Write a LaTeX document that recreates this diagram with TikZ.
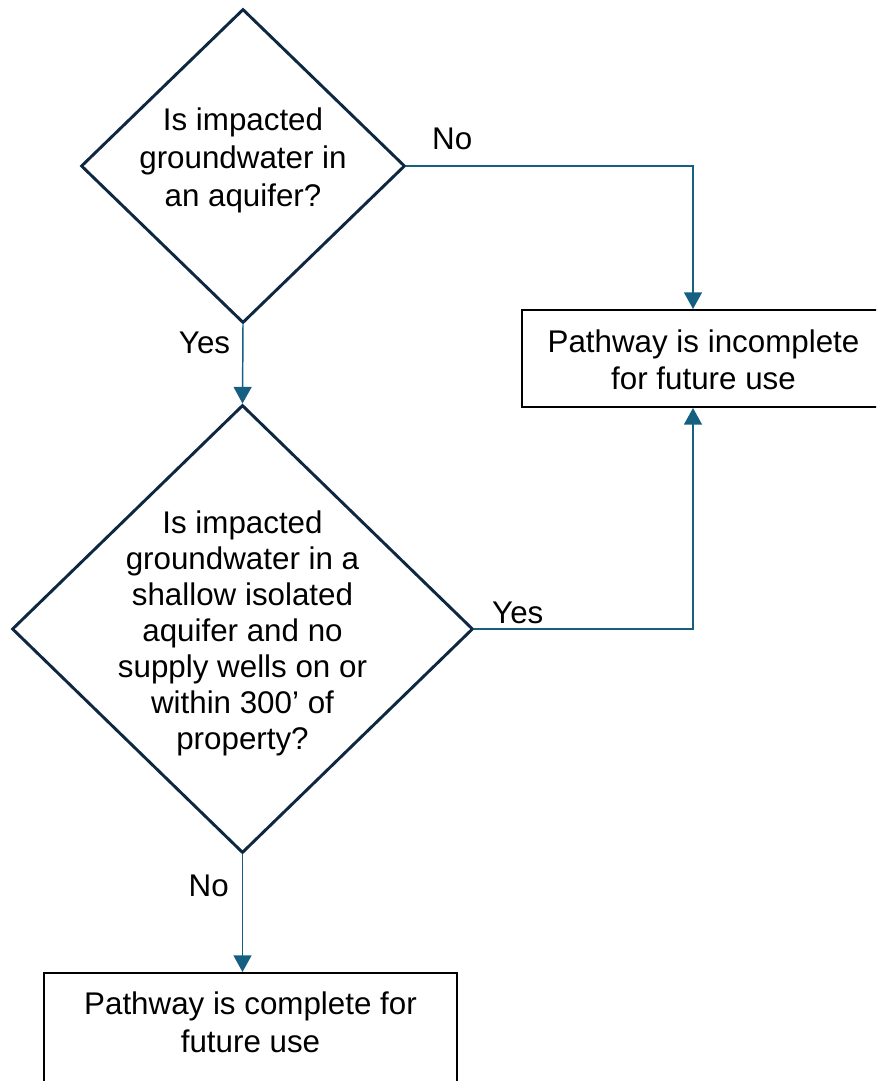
\documentclass[tikz,border=0pt]{standalone}
\usepackage{fontspec}
\setmainfont{Liberation Sans}
\usetikzlibrary{shapes,arrows.meta,positioning}

\definecolor{navy}{HTML}{0E2841}
\definecolor{flowblue}{HTML}{156082}
% #1 line spacing, #2 raise, #3 lines
\newcommand{\stacktext}[3]{\smash{\raisebox{#2}{\fontsize{23.5}{#1}\selectfont\begin{tabular}{@{}c@{}}#3\end{tabular}}}}

\begin{document}
\begin{tikzpicture}[
        x=0.75pt, y=-0.75pt,
        every node/.style={font=\fontsize{23.5}{28}\selectfont},
        question/.style={draw=navy, line width=2.2pt, diamond, inner sep=0pt, align=center},
        result/.style={draw=black, line width=1.5pt, rectangle, inner sep=0pt, align=center},
        arrow/.style={draw=flowblue, line width=1.1pt, -{Triangle[width=13.5pt,length=12.5pt]}},
        lbl/.style={inner sep=0pt}
    ]
        \useasboundingbox (0,0) rectangle (876,1081);
        \clip (0,0) rectangle (876,1081);

        % Questions
        \node[question, minimum width=243pt, minimum height=235.5pt] (aquifer) at (243,166)
            {\stacktext{28.75pt}{-2.25pt}{Is impacted\\groundwater in\\an aquifer?}};
        \node[question, minimum width=345.75pt, minimum height=336pt] (shallow) at (242.5,629)
            {\stacktext{27pt}{-10pt}{Is impacted\\groundwater in a\\shallow isolated\\aquifer and no\\supply wells on or\\within 300’ of\\property?}};

        % Outcomes
        \node[result, minimum width=272.25pt, minimum height=72.75pt] (incomplete) at (703.5,358.5)
            {\stacktext{28pt}{-9.9pt}{Pathway is incomplete\\for future use}};
        \node[result, minimum width=309.75pt, minimum height=82.5pt] (complete) at (250.5,1028)
            {\stacktext{28.5pt}{-4.6pt}{Pathway is complete for\\future use}};
        \coordinate (drop) at (693,0);

        % Connections
        \draw[arrow] (aquifer.east) -| node[lbl, pos=0, anchor=base west, xshift=18.75pt, yshift=12.75pt] {No} (drop |- incomplete.north);
        \draw[arrow] (aquifer.south) -- node[lbl, pos=0.37, anchor=base east, xshift=-9pt] {Yes} (shallow.north);
        \draw[arrow] (shallow.east) -| node[lbl, pos=0, anchor=base west, xshift=12.75pt, yshift=4.5pt] {Yes} (drop |- incomplete.south);
        \draw[arrow] (shallow.south) -- node[lbl, pos=0.36, anchor=base east, xshift=-9.75pt] {No} (shallow.south |- complete.north);

    \end{tikzpicture}
\end{document}
